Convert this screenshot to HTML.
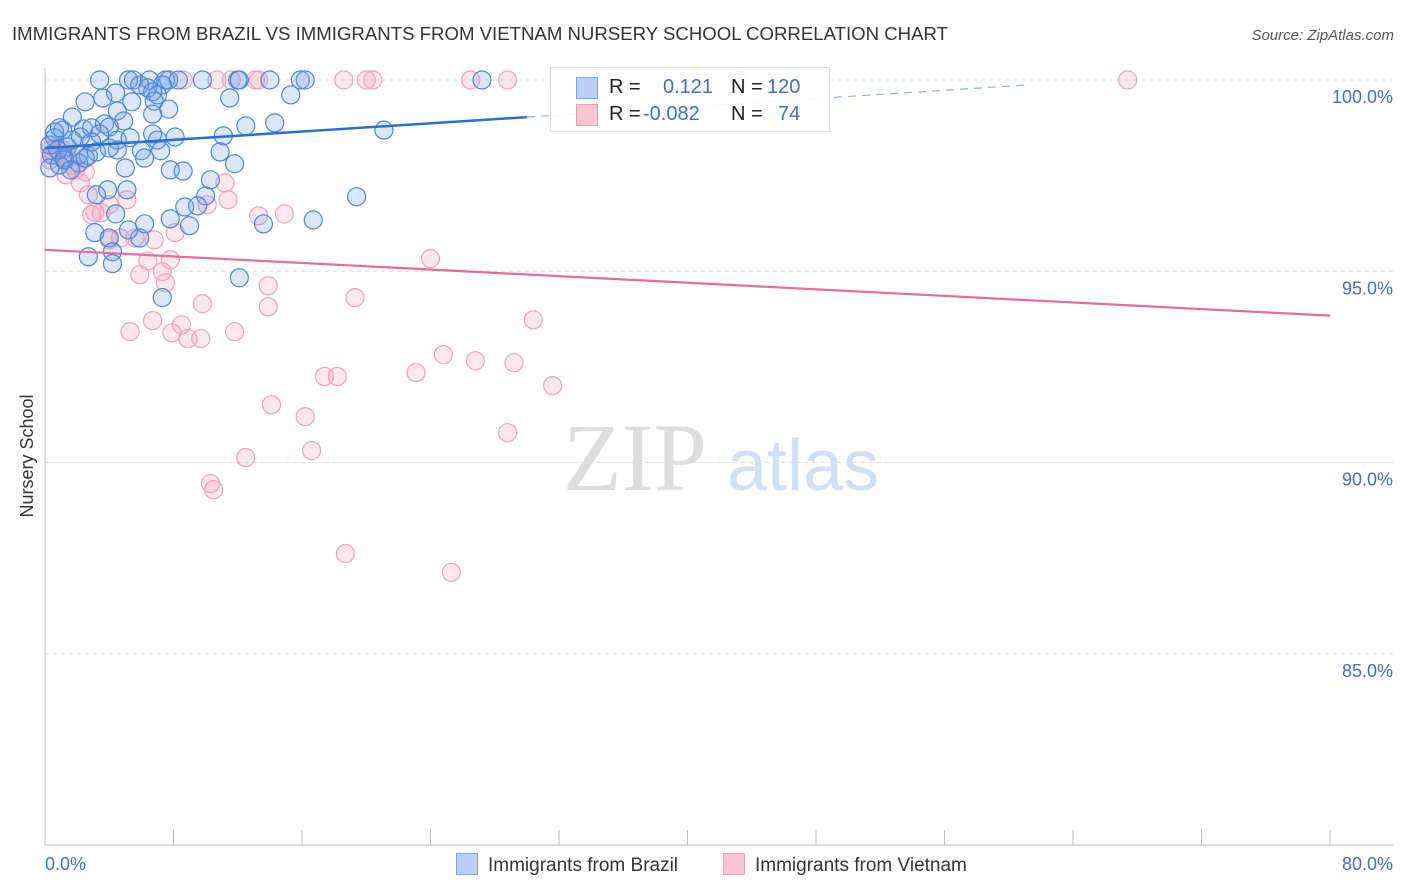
<!DOCTYPE html>
<html><head><meta charset="utf-8"><style>
body{margin:0;background:#fff;font-family:"Liberation Sans",sans-serif;}
#wrap{position:relative;width:1406px;height:892px;overflow:hidden;}
</style></head><body>
<div id="wrap">
<svg id="svg" width="1406" height="892" xmlns="http://www.w3.org/2000/svg">
<text x="12" y="40" font-size="18" fill="#333" textLength="936" lengthAdjust="spacingAndGlyphs">IMMIGRANTS FROM BRAZIL VS IMMIGRANTS FROM VIETNAM NURSERY SCHOOL CORRELATION CHART</text>
<text x="1394" y="40" font-size="15" fill="#555" text-anchor="end" font-style="italic">Source: ZipAtlas.com</text>
<text x="33" y="456" font-size="18" fill="#333" text-anchor="middle" transform="rotate(-90 33 456)">Nursery School</text>
<g>
<text x="635" y="490" font-size="96" fill="#ddd" text-anchor="middle" font-family="Liberation Serif,serif">ZIP</text>
<text x="803" y="490" font-size="72" fill="#cfe0f5" text-anchor="middle">atlas</text>
</g>
<g id="grid"></g><g id="pts"></g><g id="trend"></g>
</svg>
<div style="position:absolute;left:550px;top:67px;width:278px;height:63px;border:1px solid #ddd;background:rgba(255,255,255,0.9);font-size:20px;color:#222;">
<div style="position:absolute;left:25px;top:9px;width:20px;height:20px;background:#b8d0f3;border:1px solid #7aa7e2"></div>
<div style="position:absolute;left:58px;top:8px">R =</div>
<div style="position:absolute;left:112px;top:8px;color:#3a70c9">0.121</div>
<div style="position:absolute;left:180px;top:8px">N =</div>
<div style="position:absolute;left:216px;top:8px;color:#3a70c9">120</div>
<div style="position:absolute;left:25px;top:36px;width:20px;height:20px;background:#f8c5d4;border:1px solid #ee9ab3"></div>
<div style="position:absolute;left:58px;top:35px">R =</div>
<div style="position:absolute;left:92px;top:35px;color:#3a70c9">-0.082</div>
<div style="position:absolute;left:180px;top:35px">N =</div>
<div style="position:absolute;left:227px;top:35px;color:#3a70c9">74</div>
</div>
<div style="position:absolute;left:456px;top:853px;font-size:19px;color:#333;">
<span style="display:inline-block;width:20px;height:20px;background:#b8d0f3;border:1px solid #7aa7e2;vertical-align:-4px;margin-right:10px"></span>Immigrants from Brazil</div>
<div style="position:absolute;left:723px;top:853px;font-size:19px;color:#333;">
<span style="display:inline-block;width:20px;height:20px;background:#f8c5d4;border:1px solid #ee9ab3;vertical-align:-4px;margin-right:10px"></span>Immigrants from Vietnam</div>
</div>
<script>
const blueX=[3.4,5.2,5.5,6.5,7.5,7.7,8.3,9.8,12.0,12.1,14.0,15.9,16.2,27.2,5.9,6.4,7.3,4.4,6.7,7.0,3.6,2.5,5.4,6.8,11.5,15.3,7.7,4.5,1.7,4.9,6.7,2.4,1.1,2.9,3.7,4.0,2.2,0.6,1.7,3.4,6.7,8.1,11.1,12.5,14.3,21.1,0.3,1.4,2.9,4.5,5.3,7.0,0.4,1.2,2.1,2.7,3.2,4.5,6.0,7.2,4.0,10.9,11.8,0.9,2.1,2.5,6.2,5.0,7.8,8.6,0.3,10.3,5.1,3.9,3.2,10.0,19.4,8.7,9.5,4.4,6.2,7.8,3.1,4.0,5.9,9.0,13.6,16.7,2.7,4.2,4.2,12.1,7.3,5.2,1.2,0.8,1.6,0.6,0.9];
const blueY=[100,100,100,100,100,100,100,100,100,100,100,100,100,100,99.87,99.79,99.87,99.66,99.69,99.61,99.53,99.43,99.43,99.45,99.53,99.61,99.24,99.19,99.03,98.93,99.11,98.72,98.69,98.75,98.85,98.77,98.51,98.49,98.43,98.59,98.59,98.51,98.54,98.80,98.88,98.69,98.30,98.25,98.38,98.43,98.49,98.43,98.04,97.96,98.04,98.02,98.12,98.17,98.15,98.15,98.22,98.12,97.81,97.78,97.83,97.96,97.96,97.70,97.65,97.62,97.70,97.39,97.13,97.13,97.00,96.97,96.95,96.68,96.71,96.50,96.24,96.37,96.01,95.87,95.87,96.19,96.24,96.34,95.38,95.51,95.20,94.83,94.31,96.08,97.91,98.17,97.65,98.64,98.75];
const pinkX=[10.7,8.6,13.1,18.6,20.0,20.4,26.5,28.8,43.1,67.4,13.3,11.6,0.3,0.6,1.1,1.4,1.9,2.2,1.3,2.7,3.1,3.5,4.0,2.9,5.1,11.2,11.4,10.1,13.3,14.9,4.0,4.7,5.6,6.8,8.1,6.4,7.3,7.8,5.9,7.5,9.8,13.9,13.9,19.3,24.0,6.7,8.5,5.3,7.9,8.9,9.7,11.8,30.4,24.8,26.8,29.2,23.1,31.6,17.4,18.2,14.1,16.2,28.8,16.6,12.5,10.3,10.5,18.7,25.3,0.3,0.7,1.7,2.5];
const pinkY=[100,100,100,100,100,100,100,100,100,100,100,100,97.91,98.04,98.17,97.96,97.65,97.31,97.52,97.00,96.55,96.53,96.74,96.48,96.87,97.31,96.87,96.74,96.45,96.50,95.82,95.87,95.87,95.82,96.01,95.27,94.99,95.30,94.91,94.70,94.15,94.62,94.07,94.31,95.33,93.71,93.60,93.42,93.39,93.24,93.24,93.42,93.73,92.82,92.66,92.61,92.35,92.01,92.25,92.25,91.51,91.20,90.78,90.31,90.13,89.45,89.29,87.62,87.13,98.17,98.22,97.78,97.60];
const yTicks=[100,95,90,85];
const yTickLabels=["100.0%","95.0%","90.0%","85.0%"];
const xTicks=[0,8,16,24,32,40,48,56,64,72,80];
const blueTrend=[98.22,0.027];
const pinkTrend=[95.56,-0.0215];
const NS="http://www.w3.org/2000/svg";
const sx=v=>45+v/80*1285;
const sy=v=>845-(v-80)/20*765;
function mk(tag,attrs,parent){const e=document.createElementNS(NS,tag);for(const k in attrs)e.setAttribute(k,attrs[k]);parent.appendChild(e);return e;}
const g=document.getElementById('grid'),P=document.getElementById('pts'),T=document.getElementById('trend');
let ax=mk('line',{x1:45,y1:68,x2:45,y2:845,stroke:'#bbb'},g);


let bx=mk('line',{x1:45,y1:845,x2:1393,y2:845,stroke:'#bbb'},g);


yTicks.forEach((v,i)=>{
 let l=mk('line',{x1:45,y1:sy(v),x2:1393,y2:sy(v),stroke:'#ddd','stroke-dasharray':'4,4'},g);
 
 
 let t=mk('text',{x:1393,y:sy(v)+23,'text-anchor':'end','font-size':18,fill:'#3a70c9'},g);
 t.textContent=yTickLabels[i];
 
 
});
xTicks.forEach(v=>{
 let l=mk('line',{x1:sx(v),y1:830,x2:sx(v),y2:845,stroke:'#bbb'},g);
 
 
});
let t0=mk('text',{x:45,y:870,'font-size':18,fill:'#3a70c9'},g);t0.textContent='0.0%';


let t1=mk('text',{x:1393,y:870,'font-size':18,fill:'#3a70c9','text-anchor':'end'},g);t1.textContent='80.0%';


pinkX.forEach((x,i)=>{
 let c=mk('circle',{cx:sx(x),cy:sy(pinkY[i]),r:9,fill:'rgba(244,160,188,0.25)',stroke:'#f0a0ba','stroke-width':1.2},P);
 
 
});
blueX.forEach((x,i)=>{
 let c=mk('circle',{cx:sx(x),cy:sy(blueY[i]),r:9,fill:'rgba(110,160,230,0.25)',stroke:'#4a86d8','stroke-width':1.2},P);
 
 
});
const bl=x=>blueTrend[0]+blueTrend[1]*x, pl=x=>pinkTrend[0]+pinkTrend[1]*x;
let l1=mk('line',{x1:sx(0),y1:sy(bl(0)),x2:sx(30),y2:sy(bl(30)),stroke:'#2a6fd3','stroke-width':2.5},T);


let l2=mk('line',{x1:sx(30),y1:sy(bl(30)),x2:sx(61),y2:sy(bl(61)),stroke:'#8fb0e0','stroke-width':1.2,'stroke-dasharray':'8,6'},T);


let l3=mk('line',{x1:sx(0),y1:sy(pl(0)),x2:sx(80),y2:sy(pl(80)),stroke:'#e8699a','stroke-width':2.2},T);


</script>
</body></html>
